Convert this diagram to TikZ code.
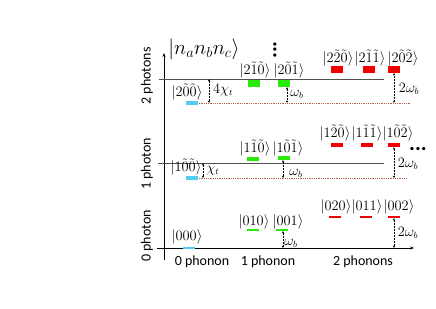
\documentclass[tikz,border=0pt]{standalone}
\usepackage{fontspec}
\setmainfont{Carlito}
\usetikzlibrary{arrows.meta}
\definecolor{cbar}{RGB}{85,205,240}
\definecolor{gbar}{RGB}{40,235,10}
\definecolor{rbar}{RGB}{240,0,0}
\definecolor{lvl}{RGB}{80,80,80}
\definecolor{dsh}{RGB}{175,95,75}
\begin{document}
\begin{tikzpicture}[x=1pt,y=-1pt,
  ket/.style={font=\fontsize{13.5}{16}\selectfont, inner sep=0pt},
  lab/.style={font=\fontsize{14}{16}\selectfont, inner sep=0pt},
  gapl/.style={font=\fontsize{13.5}{16}\selectfont, inner sep=0pt},
  dots/.style={font=\fontsize{22}{24}\selectfont\bfseries, inner sep=0pt},
  barbox/.style={rectangle, inner sep=0pt, minimum width=12pt, draw=none},
  cb/.style={barbox, fill=cbar},
  gb/.style={barbox, fill=gbar},
  rb/.style={barbox, fill=rbar},
  h0/.style={minimum height=2pt},
  h1/.style={minimum height=4pt},
  h2/.style={minimum height=6.5pt},
  level/.style={draw=lvl, line width=0.9pt},
  shifted/.style={draw=dsh, densely dotted, line width=0.8pt},
  gap/.style={densely dotted, line width=0.5pt, {Stealth[length=2.5pt,width=2.2pt]}-{Stealth[length=2.5pt,width=2.2pt]}},
  axis/.style={line width=0.8pt, -{Stealth[length=4pt,width=3pt]}}
]
\useasboundingbox (0,0) rectangle (436,308);

% axes
\coordinate (vbot) at (164,260);
\coordinate (vtop) at (164,53);
\coordinate (hl) at (157,248);
\coordinate (hr) at (414,248);
\draw[axis] (vbot) -- (vtop);
\draw[axis] (hl) -- (hr);

% level lines
\coordinate (l2a) at (159,79);  \coordinate (l2b) at (384,79);
\coordinate (l1a) at (158,163); \coordinate (l1b) at (384,163);
\draw[level] (l2a) -- (l2b);
\draw[level] (l1a) -- (l1b);
\coordinate (d2a) at (197,103); \coordinate (d2b) at (410,103);
\coordinate (d1a) at (197,178); \coordinate (d1b) at (407,178);
\draw[shifted] (d2a) -- (d2b);
\draw[shifted] (d1a) -- (d1b);

% axis labels
\node[lab, rotate=90] (p2) at (147,76) {2 photons};
\node[lab, rotate=90] (p1) at (147,164) {1 photon};
\node[lab, rotate=90] (p0) at (147,236) {0 photon};
\node[lab] (n0) at (202,262) {0 phonon};
\node[lab] (n1) at (268,262) {1 phonon};
\node[lab] (n2) at (363,262) {2 phonons};

\node[inner sep=0pt, font=\fontsize{21}{24}\selectfont] (title) at (204,49) {$|n_a n_b n_c\rangle$};
\node[dots, rotate=90] (vd) at (275,50) {...};
\node[dots] (hd) at (418,149) {...};

% 0 photon bars
\node[cb,h0] (c0) at (189,248) {};
\node[gb,h0] (g0a) at (252.5,230) {};
\node[gb,h0] (g0b) at (282,230) {};
\node[rb,h0] (r0a) at (335,217) {};
\node[rb,h0] (r0b) at (366,217) {};
\node[rb,h0] (r0c) at (394,217) {};
% 1 photon bars
\node[cb,h1] (c1) at (191.5,178) {};
\node[gb,h1] (g1a) at (253,159) {};
\node[gb,h1] (g1b) at (284,158) {};
\node[rb,h1] (r1a) at (336.5,145) {};
\node[rb,h1] (r1b) at (367,145) {};
\node[rb,h1] (r1c) at (394,145) {};
% 2 photon bars
\node[cb,h1] (c2) at (191.5,103) {};
\node[gb,h2] (g2a) at (254,83.5) {};
\node[gb,h2] (g2b) at (284,83.5) {};
\node[rb,h2] (r2a) at (337,69.5) {};
\node[rb,h2] (r2b) at (368.5,69.5) {};
\node[rb,h2] (r2c) at (394,69.5) {};

% kets 0 photon
\node[ket] (k000) at (187,237) {$|000\rangle$};
\node[ket] (k010) at (254,222) {$|010\rangle$};
\node[ket] (k001) at (288,222) {$|001\rangle$};
\node[ket] (k020) at (336,207) {$|020\rangle$};
\node[ket] (k011) at (367,207) {$|011\rangle$};
\node[ket] (k002) at (399,207) {$|002\rangle$};
% kets 1 photon
\node[ket] (k100) at (186,167) {$|1\tilde{0}\tilde{0}\rangle$};
\node[ket] (k110) at (255,148) {$|1\tilde{1}\tilde{0}\rangle$};
\node[ket] (k101) at (288,148) {$|1\tilde{0}\tilde{1}\rangle$};
\node[ket] (k120) at (335,133) {$|1\tilde{2}\tilde{0}\rangle$};
\node[ket] (k111) at (367,133) {$|1\tilde{1}\tilde{1}\rangle$};
\node[ket] (k102) at (398,133) {$|1\tilde{0}\tilde{2}\rangle$};
% kets 2 photon
\node[ket] (k200) at (187,92) {$|2\tilde{0}\tilde{0}\rangle$};
\node[ket] (k210) at (255,70) {$|2\tilde{1}\tilde{0}\rangle$};
\node[ket] (k201) at (289,70) {$|2\tilde{0}\tilde{1}\rangle$};
\node[ket] (k220) at (338,58) {$|2\tilde{2}\tilde{0}\rangle$};
\node[ket] (k211) at (370,58) {$|2\tilde{1}\tilde{1}\rangle$};
\node[ket] (k202) at (403,58) {$|2\tilde{0}\tilde{2}\rangle$};

% gaps
\coordinate (x4t) at (209,79);
\draw[gap] (x4t) -- (x4t |- d2a);
\node[gapl] (t4) at (223,90) {$4\chi_t$};
\coordinate (x2g) at (287,87);
\draw[gap] (x2g) -- (x2g |- d2a);
\node[gapl] (t2g) at (297,94) {$\omega_b$};
\draw[gap] (r2c.south) -- (r2c.south |- d2a);
\node[gapl] (t2r) at (409,89) {$2\omega_b$};

\coordinate (x1t) at (203,163);
\draw[gap] (x1t) -- (x1t |- d1a);
\node[gapl] (t1) at (213,171) {$\chi_t$};
\coordinate (x1g) at (283,160);
\draw[gap] (x1g) -- (x1g |- d1a);
\node[gapl] (t1g) at (296,173) {$\omega_b$};
\draw[gap] (r1c.south) -- (r1c.south |- d1a);
\node[gapl] (t1r) at (408,164) {$2\omega_b$};

\coordinate (x0g) at (283,231);
\draw[gap] (x0g) -- (x0g |- hl);
\node[gapl] (t0g) at (291,243) {$\omega_b$};
\draw[gap] (r0c.south) -- (r0c.south |- hl);
\node[gapl] (t0r) at (408,233) {$2\omega_b$};
\end{tikzpicture}
\end{document}
